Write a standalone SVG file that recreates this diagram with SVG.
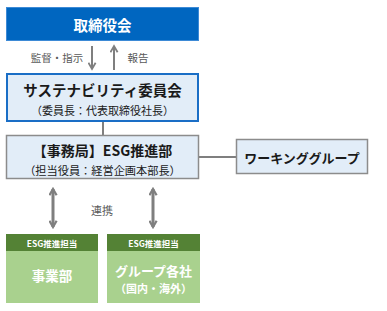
<svg xmlns="http://www.w3.org/2000/svg" width="387" height="311" viewBox="0 0 387 311">
<style>
text{font-family:"Noto Sans CJK JP","Noto Sans",sans-serif;text-anchor:middle;dominant-baseline:central}
.b{font-weight:bold}
.w{fill:#fff}
.k{fill:#1a1a1a}
.g{fill:#595959}
.ln{stroke:#7f7f7f;fill:none}
</style>
<defs>
<marker id="ah" viewBox="0 0 10 10" refX="8" refY="5" markerWidth="4.5" markerHeight="4.5" orient="auto-start-reverse" markerUnits="strokeWidth">
<path d="M1,1 L8,5 L1,9" fill="none" stroke="#7f7f7f" stroke-width="2"/>
</marker>
<marker id="ah2" viewBox="0 0 10 10" refX="8" refY="5" markerWidth="3" markerHeight="3" orient="auto-start-reverse" markerUnits="strokeWidth">
<path d="M1,1 L8,5 L1,9" fill="none" stroke="#7f7f7f" stroke-width="2.5"/>
</marker>
</defs>
<g id="connectors">
<line class="ln" x1="92" y1="46" x2="92" y2="69" stroke-width="2" marker-end="url(#ah)"/>
<line class="ln" x1="114" y1="70" x2="114" y2="46" stroke-width="2" marker-end="url(#ah)"/>
<line class="ln" x1="103" y1="122" x2="103" y2="135" stroke-width="2"/>
<line class="ln" x1="199" y1="157" x2="236" y2="157" stroke-width="2"/>
<line class="ln" x1="53" y1="189" x2="53" y2="227" stroke-width="3" marker-start="url(#ah2)" marker-end="url(#ah2)"/>
<line class="ln" x1="153" y1="189" x2="153" y2="227" stroke-width="3" marker-start="url(#ah2)" marker-end="url(#ah2)"/>
<text class="g" x="57" y="57" font-size="10.5">監督・指示</text>
<text class="g" x="138" y="57" font-size="10.5">報告</text>
<text class="g" x="102" y="210" font-size="11">連携</text>
</g>
<g id="board">
<rect x="6.5" y="7.5" width="192" height="33" fill="#0066c0" stroke="#3d8ad6" stroke-width="1"/>
<text class="w b" x="102.5" y="24" font-size="14.5">取締役会</text>
</g>
<g id="committee">
<rect x="7" y="74" width="191" height="47" fill="#e2edf8" stroke="#1a6ec6" stroke-width="2"/>
<text class="k b" x="102.5" y="89" font-size="14.5">サステナビリティ委員会</text>
<text class="k" x="102.5" y="110" font-size="11">（委員長：代表取締役社長）</text>
</g>
<g id="esg">
<rect x="6.5" y="135.5" width="192" height="43" fill="#e2edf8" stroke="#8c8c8c" stroke-width="1.5"/>
<text class="k b" x="102.5" y="150" font-size="14">【事務局】ESG推進部</text>
<text class="k" x="102.5" y="170" font-size="11.2">（担当役員：経営企画本部長）</text>
</g>
<g id="working-group">
<rect x="236.5" y="139.5" width="131" height="34" fill="#e2edf8" stroke="#8c8c8c" stroke-width="1.5"/>
<text class="k b" x="302" y="157" font-size="13">ワーキンググループ</text>
</g>
<g id="division">
<rect x="6" y="234" width="92" height="17" fill="#548235"/>
<rect x="6" y="251" width="92" height="52" fill="#a9d18e"/>
<text class="w b" x="52" y="242.5" font-size="8.5">ESG推進担当</text>
<text class="w b" x="52" y="275" font-size="13.5">事業部</text>
</g>
<g id="group-companies">
<rect x="107" y="234" width="93" height="17" fill="#548235"/>
<rect x="107" y="251" width="93" height="52" fill="#a9d18e"/>
<text class="w b" x="153.5" y="242.5" font-size="8.5">ESG推進担当</text>
<text class="w b" x="153.5" y="270" font-size="13">グループ各社</text>
<text class="w b" x="153.5" y="288" font-size="11">（国内・海外）</text>
</g>
</svg>
